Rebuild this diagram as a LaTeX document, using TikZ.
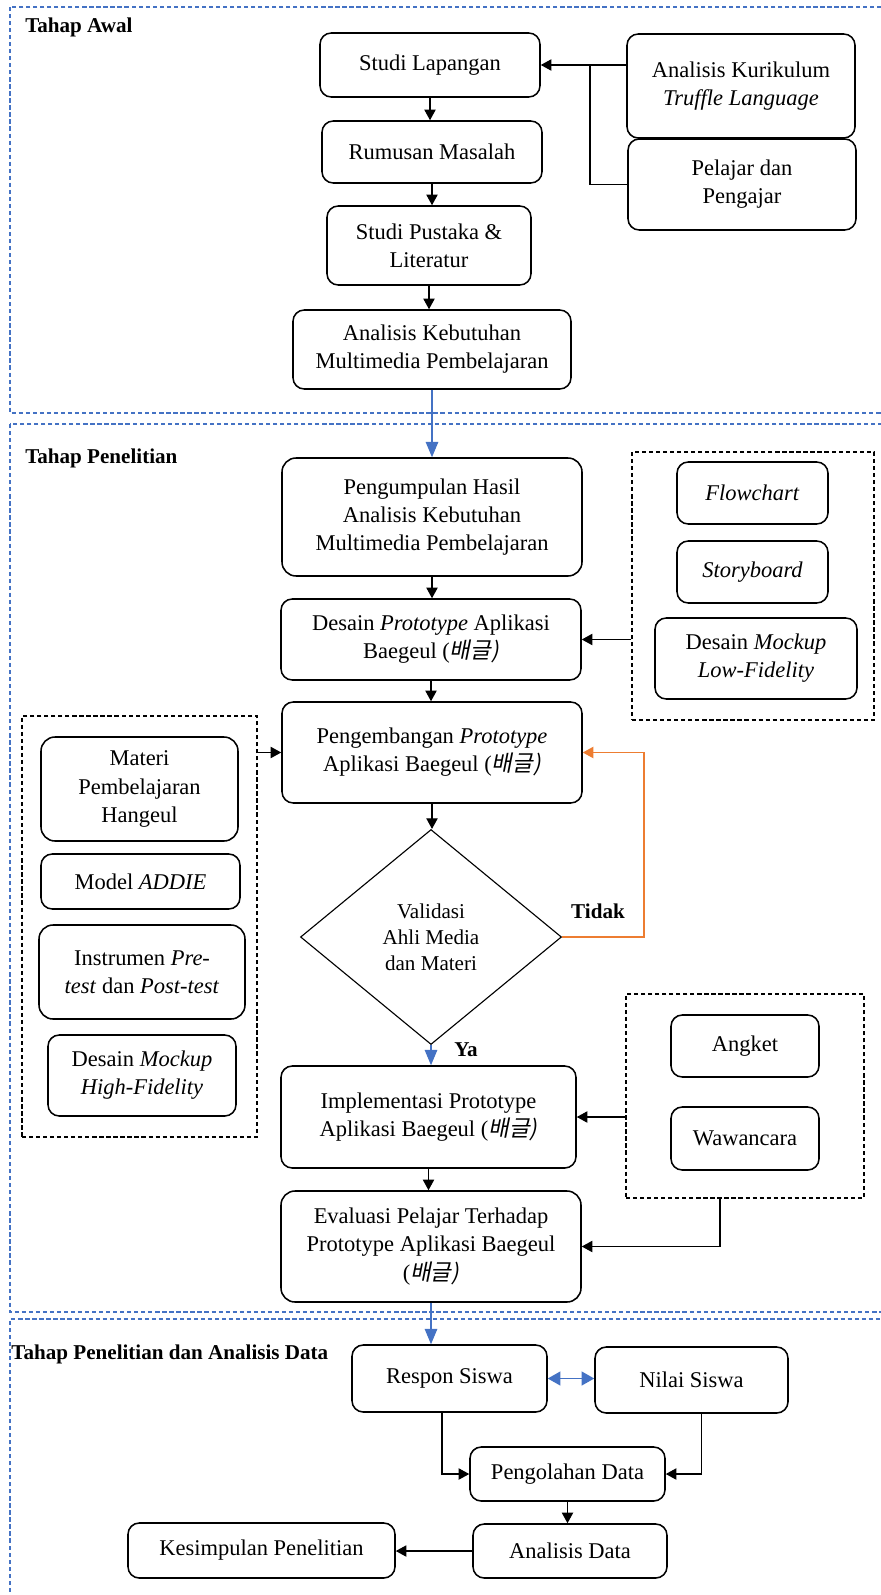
\documentclass[tikz,border=0pt]{standalone}
\usepackage{fontspec}
\setmainfont{Liberation Serif}
\newfontfamily\krfont[FakeSlant=0.2]{Noto Sans CJK KR}
\usepackage{tikz}
\usetikzlibrary{shapes.geometric, arrows.meta, positioning, calc}
\definecolor{stageblue}{RGB}{68,114,196}
\definecolor{looporange}{RGB}{237,125,49}
\newcommand{\baegeul}{{\krfont 배글)}}
\tikzset{
  box/.style={rectangle, draw=black, rounded corners=8pt, line width=1.1pt,
    align=center, font=\fontsize{16}{20}\selectfont, inner sep=2pt},
  decision/.style={diamond, draw=black, line width=0.8pt, align=center,
    font=\fontsize{15}{18.5}\selectfont, inner sep=0pt},
  groupbox/.style={rectangle, draw=black, dash pattern=on 3pt off 2pt, line width=0.8pt},
  stage/.style={draw=stageblue, dash pattern=on 3pt off 2pt, line width=0.8pt},
  heading/.style={font=\bfseries\fontsize{15}{18}\selectfont, anchor=west, inner sep=0pt},
  arrow/.style={-{Triangle[length=7.5pt,width=8pt]}, line width=0.8pt},
  bluearrow/.style={-{Triangle[length=11pt,width=9pt]}, line width=0.8pt, color=stageblue},
  orangearrow/.style={-{Triangle[length=7.5pt,width=8pt]}, line width=1pt, color=looporange},
  line/.style={line width=0.8pt}
}

\begin{document}
\begin{tikzpicture}
  \useasboundingbox (0,0) rectangle (22,-39.875);

  % Stage frames
  \draw[stage] (0.25,-0.175) rectangle (22.6,-10.325);
  \draw[stage] (0.25,-10.6) rectangle (22.6,-32.8);
  \draw[stage] (0.25,-40.5) -- (0.25,-32.975) -- (22.6,-32.975);
  \node[heading] (tawal) at (0.625,-0.675) {Tahap Awal};
  \node[heading] (tpenelitian) at (0.625,-11.45) {Tahap Penelitian};
  \node[heading] (tanalisis) at (0.28,-33.85) {Tahap Penelitian dan Analisis Data};

  % Tahap Awal
  \node[box, minimum width=5.5cm, minimum height=1.6cm] (lapangan) at (10.75,-1.625) {Studi Lapangan};
  \node[box, minimum width=5.5cm, minimum height=1.55cm] (rumusan) at (10.8,-3.8) {Rumusan Masalah};
  \node[box, minimum width=5.1cm, minimum height=1.975cm] (pustaka) at (10.725,-6.1375) {Studi Pustaka \&\\Literatur};
  \node[box, minimum width=6.95cm, minimum height=1.975cm] (kebutuhan) at (10.8,-8.7375) {Analisis Kebutuhan\\Multimedia Pembelajaran};
  \node[box, minimum width=5.7cm, minimum height=2.6cm] (kurikulum) at (18.525,-2.15) {Analisis Kurikulum\\\textit{Truffle Language}};
  \node[box, minimum width=5.7cm, minimum height=2.275cm] (pelajar) at (18.55,-4.6125) {Pelajar dan\\Pengajar};
  \coordinate (jn) at (14.75,-1.625);

  \draw[arrow] (lapangan.south) -- (lapangan.south |- rumusan.north);
  \draw[arrow] (rumusan.south) -- (rumusan.south |- pustaka.north);
  \draw[arrow] (pustaka.south) -- (pustaka.south |- kebutuhan.north);
  \draw[arrow] (lapangan.east -| kurikulum.west) -- (lapangan.east);
  \draw[line] (pelajar.west) -| (jn);

  % Tahap Penelitian
  \node[box, rounded corners=10pt, minimum width=7.5cm, minimum height=2.95cm] (pengumpulan) at (10.8,-12.925) {Pengumpulan Hasil\\Analisis Kebutuhan\\Multimedia Pembelajaran};
  \node[box, minimum width=7.5cm, minimum height=2.025cm] (desain) at (10.775,-15.9875) {Desain \textit{Prototype} Aplikasi\\Baegeul (\baegeul};
  \node[box, minimum width=7.5cm, minimum height=2.525cm] (pengembangan) at (10.8,-18.8125) {Pengembangan \textit{Prototype}\\Aplikasi Baegeul (\baegeul};

  \node[groupbox, minimum width=6.05cm, minimum height=6.7cm] (grpA) at (18.825,-14.65) {};
  \node[box, minimum width=3.775cm, minimum height=1.55cm] (flowchart) at (18.8125,-12.325) {\textit{Flowchart}};
  \node[box, minimum width=3.775cm, minimum height=1.55cm] (storyboard) at (18.8125,-14.3) {\textit{Storyboard}};
  \node[box, minimum width=5.05cm, minimum height=2.025cm] (mockuplow) at (18.9,-16.4625) {Desain \textit{Mockup}\\\textit{Low-Fidelity}};

  \node[groupbox, minimum width=5.875cm, minimum height=10.525cm] (grpB) at (3.4875,-23.1625) {};
  \node[box, rounded corners=10pt, minimum width=4.925cm, minimum height=2.6cm] (materi) at (3.4875,-19.725) {Materi\\Pembelajaran\\Hangeul};
  \node[box, minimum width=4.975cm, minimum height=1.375cm] (addie) at (3.5125,-22.0375) {Model \textit{ADDIE}};
  \node[box, rounded corners=10pt, minimum width=5.15cm, minimum height=2.35cm] (instrumen) at (3.55,-24.3) {Instrumen \textit{Pre-}\\\textit{test} dan \textit{Post-test}};
  \node[box, minimum width=4.7cm, minimum height=2.025cm] (mockuphigh) at (3.55,-26.8875) {Desain \textit{Mockup}\\\textit{High-Fidelity}};

  \node[decision, minimum width=6.525cm, minimum height=5.375cm] (validasi) at (10.775,-23.425) {Validasi\\Ahli Media\\dan Materi};

  \node[box, minimum width=7.375cm, minimum height=2.55cm] (implementasi) at (10.7125,-27.925) {Implementasi Prototype\\Aplikasi Baegeul (\baegeul};
  \node[box, rounded corners=10pt, minimum width=7.5cm, minimum height=2.775cm] (evaluasi) at (10.775,-31.1625) {Evaluasi Pelajar Terhadap\\Prototype Aplikasi Baegeul\\(\baegeul};

  \node[groupbox, minimum width=5.95cm, minimum height=5.1cm] (grpC) at (18.625,-27.4) {};
  \node[box, minimum width=3.7cm, minimum height=1.55cm] (angket) at (18.625,-26.15) {Angket};
  \node[box, minimum width=3.7cm, minimum height=1.575cm] (wawancara) at (18.625,-28.4625) {Wawancara};

  \draw[bluearrow] (kebutuhan.south) -- (kebutuhan.south |- pengumpulan.north);
  \draw[arrow] (pengumpulan.south) -- (pengumpulan.south |- desain.north);
  \draw[arrow] (desain.south) -- (desain.south |- pengembangan.north);
  \draw[arrow] (desain.east -| grpA.west) -- (desain.east);
  \draw[arrow] (pengembangan.west -| grpB.east) -- (pengembangan.west);
  \draw[arrow] (pengembangan.south) -- (pengembangan.south |- validasi.north);
  \draw[orangearrow] (validasi.east) -- ++(2.05,0) |- (pengembangan.east);
  \node[font=\bfseries\fontsize{15}{18}\selectfont] (tidak) at (14.95,-22.775) {Tidak};
  \draw[bluearrow] (validasi.south) -- (validasi.south |- implementasi.north);
  \node[font=\bfseries\fontsize{15}{18}\selectfont] (ya) at (11.65,-26.25) {Ya};
  \draw[arrow] (implementasi.south) -- (implementasi.south |- evaluasi.north);
  \draw[arrow] (implementasi.east -| grpC.west) -- (implementasi.east);
  \draw[arrow] ([xshift=-0.625cm]grpC.south) |- (evaluasi.east);

  % Tahap Penelitian dan Analisis Data
  \node[box, minimum width=4.875cm, minimum height=1.675cm] (respon) at (11.2375,-34.4625) {Respon Siswa};
  \node[box, minimum width=4.825cm, minimum height=1.65cm] (nilai) at (17.2875,-34.5) {Nilai Siswa};
  \node[box, minimum width=4.875cm, minimum height=1.35cm] (pengolahan) at (14.1875,-36.85) {Pengolahan Data};
  \node[box, minimum width=4.85cm, minimum height=1.35cm] (analisis) at (14.25,-38.775) {Analisis Data};
  \node[box, minimum width=6.675cm, minimum height=1.375cm] (kesimpulan) at (6.5375,-38.7625) {Kesimpulan Penelitian};

  \draw[bluearrow] (evaluasi.south) -- (evaluasi.south |- respon.north);
  \draw[{Triangle[length=9pt,width=10pt]}-{Triangle[length=9pt,width=10pt]}, line width=0.8pt, color=stageblue] (respon.east) -- (respon.east -| nilai.west);
  \draw[arrow] ([xshift=-0.1875cm]respon.south) |- (pengolahan.west);
  \draw[arrow] ([xshift=0.24cm]nilai.south) |- (pengolahan.east);
  \draw[arrow] (pengolahan.south) -- (pengolahan.south |- analisis.north);
  \draw[arrow] (analisis.west) -- (analisis.west -| kesimpulan.east);
\end{tikzpicture}
\end{document}
